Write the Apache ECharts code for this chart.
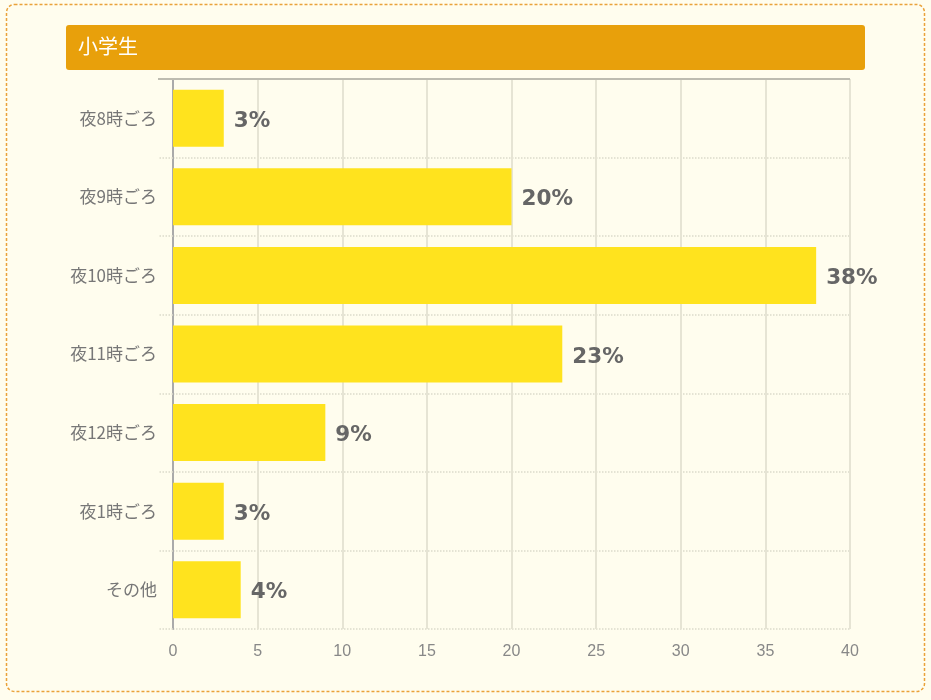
<!DOCTYPE html>
<html><head><meta charset="utf-8">
<script src="https://cdn.jsdelivr.net/npm/echarts@6/dist/echarts.min.js"></script>
<style>html,body{margin:0;padding:0;background:#fffdee;}#c{width:931px;height:700px;}</style>
</head><body><div id="c"></div>
<script>
const title = '小学生';
const categories = ['夜8時ごろ','夜9時ごろ','夜10時ごろ','夜11時ごろ','夜12時ごろ','夜1時ごろ','その他'];
const values = [3,20,38,23,9,3,4];
const xTicks = [0,5,10,15,20,25,30,35,40];

const chart = echarts.init(document.getElementById('c'));
chart.setOption({
  backgroundColor: '#fffdee',
  animation: false,
  graphic: [
    {type:'rect', shape:{x:6.5,y:4.5,width:918,height:687,r:8}, style:{fill:'none',stroke:'#eaa23a',lineWidth:1.5,lineDash:[3,2]}},
    {type:'rect', shape:{x:66,y:25,width:799,height:45,r:3}, style:{fill:'#e8a00b'}},
    {type:'text', left:78, top:36, style:{text:title, fill:'#ffffff', font:'20px "Noto Sans CJK JP", sans-serif'}},
    {type:'line', z:10, shape:{x1:158,y1:79,x2:850,y2:79}, style:{stroke:'#bdbcb0',lineWidth:2}}
  ],
  grid: {left:173, right:81, top:79, bottom:71, containLabel:false},
  xAxis: {
    type:'value', min:0, max:40, interval:5,
    axisLine:{show:false}, axisTick:{show:false},
    axisLabel:{color:'#888', fontSize:16, fontFamily:'"Liberation Sans", Arial, sans-serif', margin:15,
      formatter:function(v){return xTicks.indexOf(v)>=0 ? String(v) : '';}},
    splitLine:{show:true, lineStyle:{color:'#e6e4d4', width:2}}
  },
  yAxis: {
    type:'category', data:categories, inverse:true,
    axisLine:{show:true, lineStyle:{color:'#aaa', width:2}},
    axisTick:{show:true, length:15, lineStyle:{color:'#dcdacb', type:'dotted', width:1.5}},
    axisLabel:{color:'#777', fontSize:17, fontFamily:'"Noto Sans CJK JP", sans-serif', margin:16},
    splitLine:{show:true, lineStyle:{color:'#dcdacb', type:'dotted', width:1.5}}
  },
  series: [{
    type:'bar', data:values, barWidth:57,
    itemStyle:{color:'#ffe31e'},
    label:{show:true, position:'right', distance:10, offset:[0,3], formatter:'{c}%', color:'#666', fontSize:21.5, fontWeight:'bold', fontFamily:'"DejaVu Sans", sans-serif'}
  }]
});
</script></body></html>
